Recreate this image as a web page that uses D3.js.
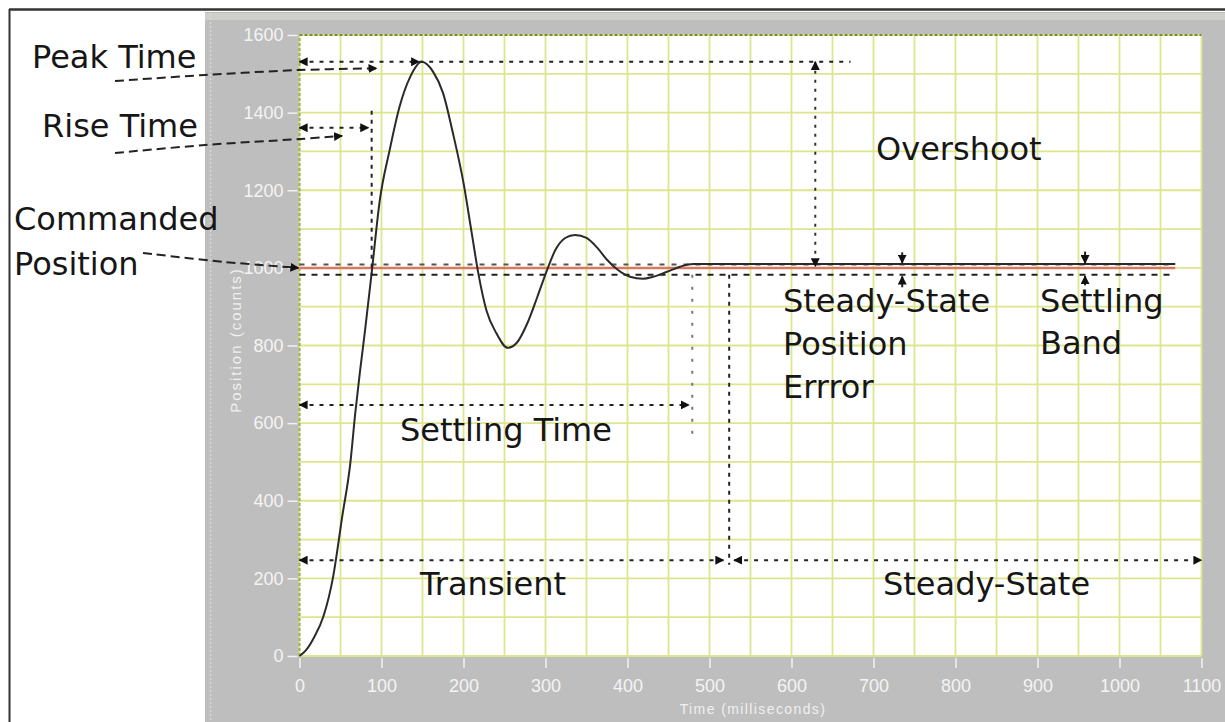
<!DOCTYPE html>
<html><head><meta charset="utf-8">
<script src="https://cdn.jsdelivr.net/npm/d3@7"></script>
<style>body{margin:0;background:#fff;}svg{display:block;}</style>
</head><body>
<svg id="c" width="1225" height="722"></svg>
<script>
// ---- data ----
const timeMs = [0,8,18,29,41,52,62,68,74,80,88,98,110,122,135,149,163,175,187,200,210,218,228,240,254,265,278,290,302,312,324,336,350,363,375,388,403,419,431,448,464,480,521,600,700,800,900,1000,1068];
const positionCounts = [0,15,49,101,204,358,497,626,737,840,987,1175,1304,1415,1492,1531,1505,1451,1348,1219,1090,987,890,832,794,807,858,925,995,1046,1077,1085,1077,1052,1021,995,977,972,977,990,1003,1010,1010,1010,1010,1010,1010,1010,1010];
const commandedPosition = 1000;
const commandEnd = 1068;
const xTicks = [0,100,200,300,400,500,600,700,800,900,1000,1100];
const yTicks = [0,200,400,600,800,1000,1200,1400,1600];
const xGrid = d3.range(0,1101,50);
const yGrid = d3.range(0,1601,100);

const svg = d3.select("#c");
const W = 1225, H = 722;
const x = d3.scaleLinear().domain([0,1100]).range([299.5,1201.5]);
const y = d3.scaleLinear().domain([0,1600]).range([656,35]);

// frame
svg.append("rect").attr("x",0).attr("y",0).attr("width",W).attr("height",H).attr("fill","#fff");
svg.append("line").attr("x1",9).attr("x2",W).attr("y1",9.5).attr("y2",9.5).attr("stroke","#333").attr("stroke-width",2.5);
svg.append("line").attr("x1",9.5).attr("x2",9.5).attr("y1",9).attr("y2",H).attr("stroke","#333").attr("stroke-width",2);
svg.append("rect").attr("x",205).attr("y",12).attr("width",W-205).attr("height",H-12).attr("fill","#bebebe");
svg.append("rect").attr("x",205).attr("y",13).attr("width",W-205).attr("height",7).attr("fill","#cfcfcb");
svg.append("line").attr("x1",210.5).attr("x2",210.5).attr("y1",14).attr("y2",H).attr("stroke","#d8d8d8").attr("stroke-width",1.5).attr("stroke-dasharray","2,2");

// plot area
svg.append("rect").attr("x",x(0)).attr("y",y(1600)).attr("width",x(1100)-x(0)).attr("height",y(0)-y(1600)).attr("fill","#fff");
const g = svg.append("g");
g.selectAll(".vg").data(xGrid).join("line").attr("x1",d=>x(d)).attr("x2",d=>x(d)).attr("y1",y(0)).attr("y2",y(1600)).attr("stroke","#dde68f").attr("stroke-width",1.8);
g.selectAll(".hg").data(yGrid).join("line").attr("x1",x(0)).attr("x2",x(1100)).attr("y1",d=>y(d)).attr("y2",d=>y(d)).attr("stroke","#dde68f").attr("stroke-width",1.8);
svg.append("line").attr("x1",x(0)).attr("x2",x(1100)).attr("y1",y(1600)).attr("y2",y(1600)).attr("stroke","#7d8a3a").attr("stroke-width",2).attr("stroke-dasharray","3,2");
svg.append("line").attr("x1",x(0)).attr("x2",x(0)).attr("y1",y(0)).attr("y2",y(1600)).attr("stroke","#9fb04a").attr("stroke-width",2).attr("stroke-dasharray","3,2");

// axes
const yAxis = svg.append("g").attr("transform",`translate(${x(0)-2},0)`).call(d3.axisLeft(y).tickValues(yTicks).tickSize(10).tickPadding(4).tickFormat(d3.format("d")));
const xAxis = svg.append("g").attr("transform",`translate(0,${y(0)+2})`).call(d3.axisBottom(x).tickValues(xTicks).tickSize(10).tickPadding(11).tickFormat(d3.format("d")));
[yAxis,xAxis].forEach(a=>{
  a.select(".domain").remove();
  a.selectAll("line").attr("stroke","#f2f2f2").attr("stroke-width",1.5);
  a.selectAll("text").attr("fill","#f4f4f4").attr("font-family","Liberation Sans, Arial, sans-serif").attr("font-size",18);
});
svg.append("text").attr("x",753).attr("y",714).attr("text-anchor","middle").attr("fill","#f0f0f0").attr("font-family","Liberation Sans, Arial, sans-serif").attr("font-size",14).attr("letter-spacing",1.4).text("Time (milliseconds)");
svg.append("text").attr("transform","translate(241,340) rotate(-90)").attr("text-anchor","middle").attr("fill","#f0f0f0").attr("font-family","Liberation Sans, Arial, sans-serif").attr("font-size",15).attr("letter-spacing",2).text("Position (counts)");

// markers
const defs = svg.append("defs");
defs.append("marker").attr("id","ah").attr("viewBox","0 0 10 10").attr("refX",9).attr("refY",5).attr("markerWidth",9).attr("markerHeight",9).attr("markerUnits","userSpaceOnUse").attr("orient","auto-start-reverse")
  .append("path").attr("d","M0,0 L10,5 L0,10 Z").attr("fill","#111");

const dash = "4,6";
function seg(t1,v1,t2,v2,opts={}) {
  const l = svg.append("line").attr("x1",x(t1)).attr("y1",y(v1)).attr("x2",x(t2)).attr("y2",y(v2))
    .attr("stroke",opts.color||"#222").attr("stroke-width",opts.w||2).attr("stroke-dasharray",opts.dash||dash);
  if (opts.start) l.attr("marker-start","url(#ah)");
  if (opts.end) l.attr("marker-end","url(#ah)");
  return l;
}

// settling band
seg(0,1009,commandEnd,1009,{color:"#555",dash:"5,7"});
seg(0,982,commandEnd,982,{color:"#222",dash:"6,6"});

// commanded position line
svg.append("line").attr("x1",x(0)).attr("x2",x(commandEnd)).attr("y1",y(commandedPosition)).attr("y2",y(commandedPosition)).attr("stroke","#d8785e").attr("stroke-width",2.5);

// response curve
const pts = timeMs.map((t,i)=>[t,positionCounts[i]]);
svg.append("path").datum(pts).attr("fill","none").attr("stroke","#2a2a2a").attr("stroke-width",2)
  .attr("d",d3.line().x(d=>x(d[0])).y(d=>y(d[1])).curve(d3.curveMonotoneX));

// annotation arrows
seg(0,1531,146,1531,{start:true,end:true});
seg(146,1531,672,1531,{});
seg(0,1361,84,1361,{start:true,end:true});
seg(88,1405,88,980,{dash:"4,5"});
seg(629,1531,629,1004,{start:true,end:true,dash:"3,6",color:"#333"});
seg(0,647,475,647,{start:true,end:true});
seg(479,982,479,557,{color:"#777",dash:"3,9"});
seg(0,247,517,247,{start:true,end:true});
seg(524,982,524,235,{dash:"4,5"});
seg(530,247,1100,247,{start:true,end:true});
// error / band arrows
seg(735,1040,735,1013,{end:true,dash:"none"});
seg(735,950,735,978,{end:true,dash:"none"});
seg(958,1042,958,1012,{end:true,dash:"none"});
seg(958,955,958,979,{end:true,dash:"none"});

// leader lines from left labels
const leader = d3.line().curve(d3.curveCatmullRom);
function lead(p, tip){
  svg.append("path").attr("d",leader(p.concat([tip]))).attr("fill","none").attr("stroke","#222").attr("stroke-width",2).attr("stroke-dasharray","9,5").attr("marker-end","url(#ah)");
}
lead([[115,81],[205,75],[300,70]],[x(94),y(1514)]);
lead([[115,153],[205,145],[300,139]],[x(52),y(1340)]);
lead([[143,253],[225,262]],[x(0)-1,y(1000)]);

// text labels
const font = "DejaVu Sans, Verdana, sans-serif";
const labels = [
  ["Peak Time",32,68],["Rise Time",42,137],["Commanded",14,230],["Position",14,275],
  ["Overshoot",876,160],["Steady-State",783,312],["Position",783,355],["Errror",783,398],
  ["Settling",1040,312],["Band",1040,354],["Settling Time",400,441],["Transient",420,595],["Steady-State",883,595]
];
svg.selectAll(".lbl").data(labels).join("text").attr("x",d=>d[1]).attr("y",d=>d[2]).attr("font-family",font).attr("font-size",32).attr("fill","#161616").text(d=>d[0]);
</script>
</body></html>
